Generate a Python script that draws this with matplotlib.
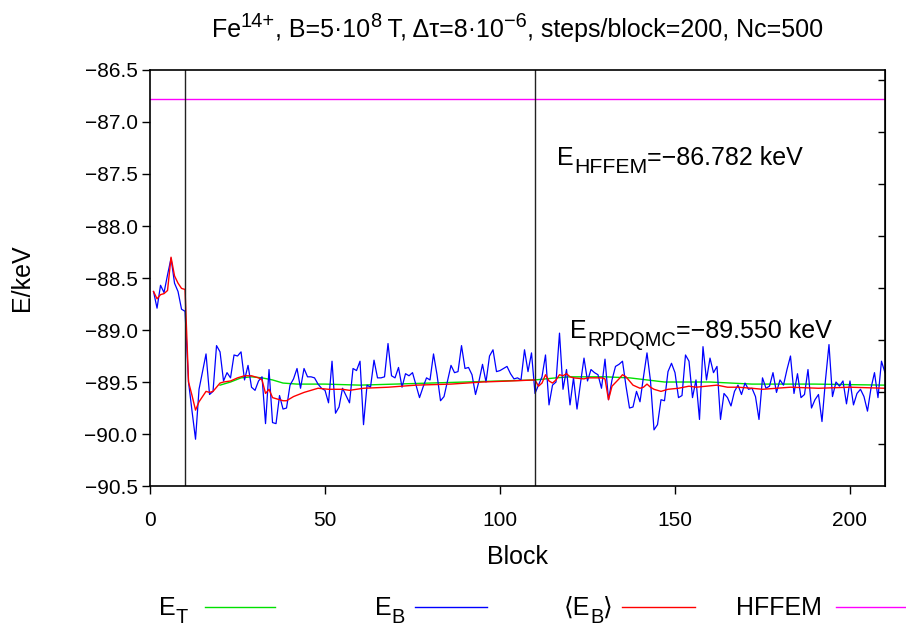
import numpy as np
import matplotlib
matplotlib.use('Agg')
import matplotlib.pyplot as plt
import matplotlib.transforms as mtransforms
from matplotlib.lines import Line2D

plt.rcParams['font.family'] = ['Liberation Sans', 'DejaVu Sans']

# E_B per block (blue)
eb = [-88.63, -88.79, -88.57, -88.64, -88.47, -88.31, -88.55, -88.63, -88.80, -88.82,
      -89.50, -89.78, -90.05, -89.57, -89.40, -89.23, -89.62, -89.59, -89.15, -89.21,
      -89.49, -89.41, -89.46, -89.24, -89.25, -89.21, -89.48, -89.34, -89.55, -89.58,
      -89.49, -89.45, -89.90, -89.38, -89.89, -89.90, -89.63, -89.76, -89.75, -89.53,
      -89.47, -89.37, -89.56, -89.37, -89.45, -89.45, -89.46, -89.52, -89.56, -89.58,
      -89.70, -89.30, -89.80, -89.74, -89.56, -89.63, -89.70, -89.37, -89.39, -89.30,
      -89.91, -89.53, -89.55, -89.29, -89.46, -89.46, -89.45, -89.13, -89.44, -89.46,
      -89.36, -89.55, -89.42, -89.44, -89.41, -89.53, -89.65, -89.55, -89.46, -89.48,
      -89.23, -89.43, -89.68, -89.64, -89.49, -89.34, -89.41, -89.40, -89.15, -89.37,
      -89.36, -89.43, -89.62, -89.49, -89.33, -89.50, -89.25, -89.19, -89.40, -89.39,
      -89.37, -89.35, -89.42, -89.47, -89.46, -89.48, -89.19, -89.40, -89.22, -89.61,
      -89.53, -89.45, -89.24, -89.72, -89.53, -89.50, -89.03, -89.57, -89.38, -89.72,
      -89.46, -89.76, -89.51, -89.27, -89.49, -89.38, -89.41, -89.43, -89.56, -89.28,
      -89.67, -89.48, -89.35, -89.33, -89.30, -89.54, -89.75, -89.74, -89.59, -89.69,
      -89.45, -89.22, -89.49, -89.96, -89.91, -89.67, -89.68, -89.40, -89.32, -89.41,
      -89.65, -89.63, -89.24, -89.30, -89.65, -89.48, -89.86, -89.16, -89.48, -89.27,
      -89.41, -89.35, -89.86, -89.61, -89.65, -89.73, -89.59, -89.53, -89.62, -89.51,
      -89.57, -89.56, -89.64, -89.86, -89.46, -89.56, -89.54, -89.41, -89.60, -89.48,
      -89.53, -89.38, -89.25, -89.61, -89.42, -89.65, -89.62, -89.38, -89.75, -89.67,
      -89.62, -89.88, -89.48, -89.14, -89.64, -89.50, -89.54, -89.49, -89.71, -89.49,
      -89.72, -89.61, -89.57, -89.64, -89.78, -89.56, -89.41, -89.65, -89.30, -89.41]
eb_block = list(range(1, len(eb) + 1))

# running average <E_B> (red)
avg_block = [1, 2, 3, 4, 5, 6, 7, 8, 9, 10, 11, 12, 13, 14, 16, 17, 18, 20, 21, 23,
             25, 27, 29, 31, 32, 33, 34, 35, 36, 38, 39, 41, 44, 48, 51, 55, 57, 61, 68, 76,
             86, 95, 103, 110, 111, 112, 113, 114, 115, 116, 117, 118, 119, 120, 121, 124, 125, 129, 130, 131,
             132, 134, 135, 136, 137, 138, 140, 141, 142, 143, 144, 146, 148, 151, 154, 156, 159, 162, 165, 168,
             172, 175, 183, 191, 200, 210]
avg = [-88.63, -88.70, -88.66, -88.65, -88.62, -88.30, -88.48, -88.55, -88.60, -88.61,
       -89.50, -89.63, -89.77, -89.69, -89.59, -89.60, -89.59, -89.51, -89.50, -89.49,
       -89.46, -89.44, -89.44, -89.46, -89.48, -89.61, -89.57, -89.65, -89.66, -89.68,
       -89.68, -89.64, -89.60, -89.56, -89.57, -89.57, -89.58, -89.56, -89.55, -89.53,
       -89.52, -89.50, -89.49, -89.48, -89.54, -89.51, -89.43, -89.49, -89.51, -89.48,
       -89.43, -89.44, -89.42, -89.45, -89.46, -89.47, -89.46, -89.46, -89.47, -89.67,
       -89.54, -89.47, -89.43, -89.45, -89.49, -89.53, -89.56, -89.55, -89.52, -89.55,
       -89.57, -89.59, -89.57, -89.56, -89.54, -89.55, -89.54, -89.53, -89.55, -89.55,
       -89.56, -89.57, -89.55, -89.56, -89.55, -89.56]

# trial energy E_T (green)
et_block = [20, 23, 26, 29, 32, 35, 38, 42, 50, 60, 70, 80, 90, 100, 110, 113, 116,
            120, 130, 137, 142, 147, 160, 172, 190, 210]
et = [-89.53, -89.50, -89.46, -89.45, -89.46, -89.48, -89.51, -89.52, -89.52, -89.53,
      -89.52, -89.51, -89.50, -89.49, -89.48, -89.47, -89.46, -89.45, -89.45, -89.46,
      -89.48, -89.50, -89.50, -89.52, -89.52, -89.53]

e_hffem = -86.782
e_rpdqmc = -89.550
block_marks = [10, 110]
xticks = [0, 50, 100, 150, 200]
yticks = [-90.5, -90.0, -89.5, -89.0, -88.5, -88.0, -87.5, -87.0, -86.5]
y2ticks = [-90.093, -89.593, -89.093, -88.593, -88.093, -87.593, -87.093, -86.593]

FS = 18
fig = plt.figure(figsize=(9.06, 6.26), dpi=100)
ax = fig.add_axes([0.1656, 0.2236, 0.8112, 0.6646])
renderer = fig.canvas.get_renderer()


def text_width(s, size):
    # width in points, measured between two sentinels so spaces count
    a = fig.text(0, 0, 'X' + s + 'X', fontsize=size)
    b = fig.text(0, 0, 'XX', fontsize=size)
    w = a.get_window_extent(renderer).width - b.get_window_extent(renderer).width
    a.remove()
    b.remove()
    return w * 72.0 / fig.dpi


def rich(x, y, parts, transform, size=FS, ha='left'):
    # parts: (text, scale, rise in em), gnuplot-like sub/superscripts
    widths = [text_width(s, size * sc) for s, sc, r in parts]
    total = sum(widths)
    off = {'left': 0, 'center': -total / 2, 'right': -total}[ha]
    for (s, sc, r), w in zip(parts, widths):
        tr = mtransforms.offset_copy(transform, fig=fig, x=off, y=r * size, units='points')
        fig.text(x, y, s, transform=tr, fontsize=size * sc, va='baseline', ha='left')
        off += w


ax.plot(et_block, et, color='#00e000', lw=1.0)
ax.plot(eb_block, eb, color='#0000ff', lw=0.9)
ax.plot(avg_block, avg, color='#ff0000', lw=1.0)
ax.axhline(e_hffem, color='#ff00ff', lw=1.0)
for b in block_marks:
    ax.axvline(b, color='#222222', lw=1.0)

ax.set_xlim(0, 210)
ax.set_ylim(-90.5, -86.5)
ax.set_xticks(xticks)
ax.set_yticks(yticks)
ax.set_yticklabels([('%.1f' % v).replace('-', '\u2212') for v in yticks])
ax.tick_params(axis='both', direction='out', length=6, width=1, labelsize=15)
ax.tick_params(axis='y', pad=3)
ax.tick_params(axis='x', pad=12)
for s in ax.spines.values():
    s.set_linewidth(1.2)

# unlabeled inward ticks on the right border
sec = ax.secondary_yaxis('right')
sec.set_yticks(y2ticks)
sec.set_yticklabels([])
sec.tick_params(direction='in', length=5, width=1)

ax.set_xlabel('Block', fontsize=FS, labelpad=11)
ax.set_ylabel('E/keV', fontsize=FS, labelpad=36)

SUP, SUB = 0.4, -0.33
rich(517.5 / 906, 1 - 37 / 626,
     [('Fe', 1, 0), ('14+', 0.8, SUP), (', B=5\u00b710', 1, 0), ('8', 0.8, SUP),
      (' T, \u0394\u03c4=8\u00b710', 1, 0), ('\u22126', 0.8, SUP),
      (', steps/block=200, Nc=500', 1, 0)],
     fig.transFigure, ha='center')

rich(116.4, -87.41, [('E', 1, 0), ('HFFEM', 0.85, SUB), ('=\u221286.782 keV', 1, 0)], ax.transData)
rich(120.1, -89.074, [('E', 1, 0), ('RPDQMC', 0.8, SUB), ('=\u221289.550 keV', 1, 0)], ax.transData)

# key below the plot
W, H = 906.0, 626.0
key = [([('E', 1, 0), ('T', 0.8, SUB)], 188, 205, 275, '#00e000'),
       ([('E', 1, 0), ('B', 0.8, SUB)], 405, 415, 487, '#0000ff'),
       ([('\u27e8E', 1, 0), ('B', 0.8, SUB), ('\u27e9', 1, 0)], 613, 622, 695, '#ff0000'),
       ([('HFFEM', 1, 0)], 822, 836, 905, '#ff00ff')]
for parts, tx, x0, x1, col in key:
    rich(tx / W, 1 - 615 / H, parts, fig.transFigure, ha='right')
    fig.add_artist(Line2D([x0 / W, x1 / W], [1 - 607 / H, 1 - 607 / H], color=col, lw=1.0))

fig.savefig('out.png', dpi=100)
